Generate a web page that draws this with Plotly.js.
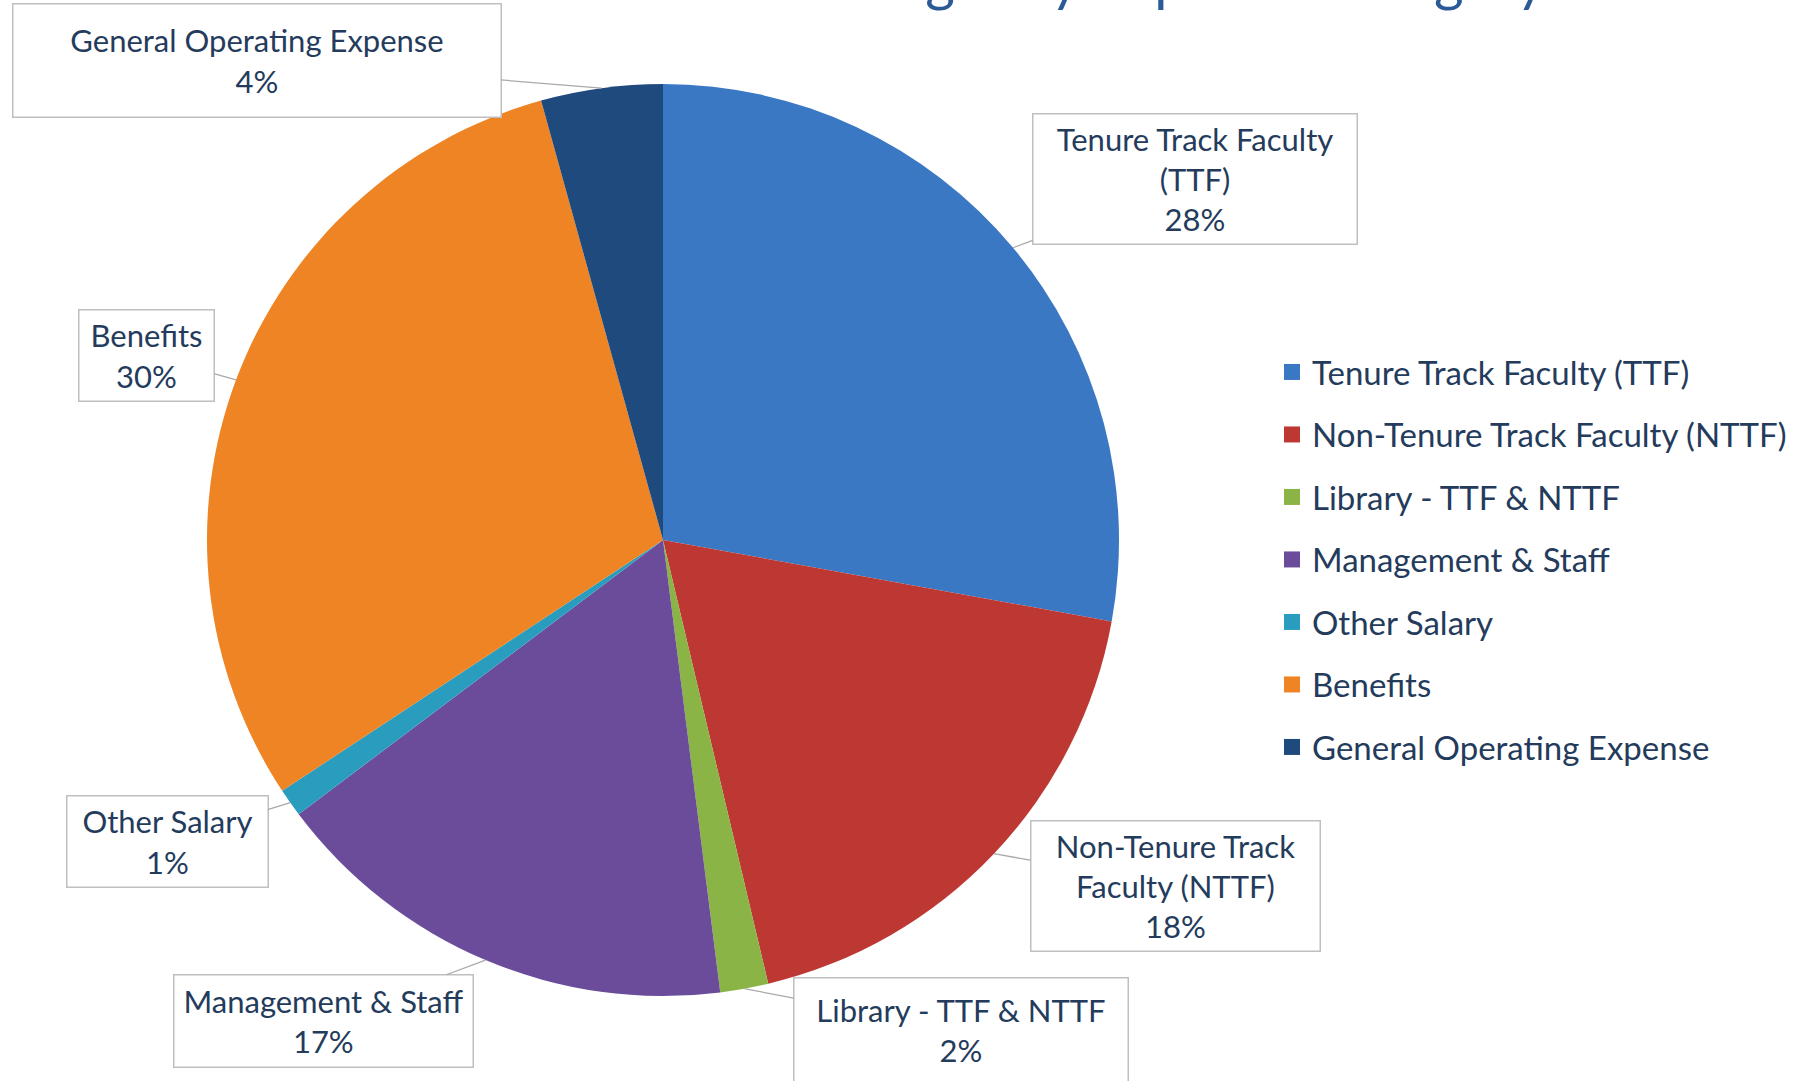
<!DOCTYPE html>
<html>
<head>
<meta charset="utf-8">
<script src="https://cdn.plot.ly/plotly-3.0.1.min.js"></script>
<style>html,body{margin:0;padding:0;background:#fff;}#chart{width:1812px;height:1081px;}</style>
</head>
<body>
<div id="chart"></div>
<script>
// ---- data ----
const categories = ["Tenure Track Faculty (TTF)", "Non-Tenure Track Faculty (NTTF)", "Library - TTF & NTTF", "Management & Staff", "Other Salary", "Benefits", "General Operating Expense"];
const calloutNames = ["Tenure Track Faculty<br>(TTF)", "Non-Tenure Track<br>Faculty (NTTF)", "Library - TTF & NTTF", "Management & Staff", "Other Salary", "Benefits", "General Operating Expense"];
const shares = [27.8, 18.4, 1.7, 16.7, 1.0, 29.9, 4.3];
const colors = ["#3B78C4", "#BD3833", "#8AB446", "#6B4C9A", "#2A9DBF", "#EE8424", "#1F4A7E"];
const titleText = "FY17 General Fund Base Budget by Expense Category";

// ---- layout geometry (pixels) ----
const W = 1812, H = 1081;
const CX = 663, CY = 540, R = 456;
// callout box centres and sizes [cx, cy, w, h]
const boxes = [
  [1195, 179, 325, 131],
  [1175, 886, 290, 131],
  [961, 1030, 335, 105],
  [323, 1021, 300, 93],
  [167, 841, 202, 92],
  [147, 355, 136, 92],
  [257, 60, 489, 114]
];

const total = shares.reduce((a, b) => a + b, 0);
let cum = 0;
const annotations = shares.map((v, i) => {
  const mid = (cum + v / 2) / total;
  cum += v;
  const th = 2 * Math.PI * mid;
  const px = CX + R * Math.sin(th);
  const py = CY - R * Math.cos(th);
  const b = boxes[i];
  return {
    xref: 'paper', yref: 'paper',
    x: px / W, y: 1 - py / H,
    ax: b[0] - px, ay: b[1] - py,
    axref: 'pixel', ayref: 'pixel',
    showarrow: true, arrowhead: 0, arrowwidth: 1.3, arrowcolor: '#A9A9A9',
    text: calloutNames[i] + '<br>' + Math.round(v / total * 100) + '%',
    width: b[2] - 4, height: b[3] - 4,
    align: 'center', valign: 'middle',
    bgcolor: '#FFFFFF', bordercolor: '#BFBFBF', borderwidth: 1.5, borderpad: 1,
    font: {family: 'Lato, sans-serif', size: 31, color: '#243B5C'}
  };
});

const traces = [{
  type: 'pie',
  labels: categories,
  values: shares,
  sort: false,
  direction: 'clockwise',
  rotation: 0,
  marker: {colors: colors, line: {width: 0}},
  textinfo: 'none',
  showlegend: false,
  domain: {x: [(CX - R) / W, (CX + R) / W], y: [1 - (CY + R) / H, 1 - (CY - R) / H]},
  hoverinfo: 'label+percent'
}];
// legend entries (one per category)
categories.forEach((c, i) => {
  traces.push({
    type: 'scatter', mode: 'markers', x: [null], y: [null],
    name: c, legendgroup: 'g' + i, showlegend: true,
    marker: {symbol: 'square', size: 16, color: colors[i], line: {width: 0}},
    hoverinfo: 'skip'
  });
});

const layout = {
  width: W, height: H,
  margin: {l: 0, r: 0, t: 0, b: 0},
  paper_bgcolor: '#FFFFFF', plot_bgcolor: '#FFFFFF',
  title: {
    text: titleText,
    font: {family: 'Lato, sans-serif', size: 57, color: '#2B5A97'},
    x: 869 / W, xanchor: 'center', xref: 'paper',
    y: 1, yref: 'container', yanchor: 'bottom', pad: {t: 0, b: 0}
  },
  xaxis: {visible: false}, yaxis: {visible: false},
  showlegend: true,
  legend: {
    x: 1272 / W, xanchor: 'left', y: 1 - 344 / H, yanchor: 'top',
    font: {family: 'Lato, sans-serif', size: 33, color: '#243B5C'},
    tracegroupgap: 16.6, bgcolor: 'rgba(0,0,0,0)', itemsizing: 'trace'
  },
  annotations: annotations
};

Plotly.newPlot('chart', traces, layout, {displayModeBar: false, staticPlot: true});
</script>
</body>
</html>
